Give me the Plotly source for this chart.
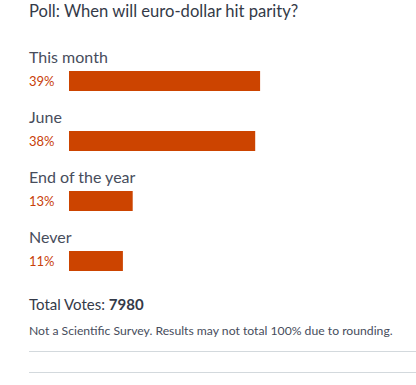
import plotly.graph_objects as go

title = "Poll: When will euro-dollar hit parity?"
categories = ["This month", "June", "End of the year", "Never"]
percents = [39, 38, 13, 11]
total_votes = 7980
footnote = "Not a Scientific Survey. Results may not total 100% due to rounding."

W, H = 416, 385
BAR_COLOR = "#cc4400"
TEXT_DARK = "#343a48"
TEXT_MID = "#474d5c"
FONT = "Lato"
TX = 27  # left edge of text boxes (px)


def px(xp):
    return xp / W


def py(yp):
    return 1 - yp / H


fig = go.Figure()
fig.add_trace(go.Bar(
    x=percents, y=categories, orientation="h",
    marker=dict(color=BAR_COLOR, line=dict(width=0)),
    width=0.333, hoverinfo="skip",
))

annotations = [
    dict(text=title, x=px(TX), y=py(11), xref="paper", yref="paper",
         xanchor="left", yanchor="middle", showarrow=False,
         font=dict(family=FONT, size=16.6, color=TEXT_DARK)),
]
for cat, p in zip(categories, percents):
    annotations.append(dict(text=cat, x=px(TX), y=cat, xref="paper", yref="y",
                            xanchor="left", yanchor="middle", yshift=25, showarrow=False,
                            font=dict(family=FONT, size=16, color=TEXT_MID)))
    annotations.append(dict(text=f"{p}%", x=px(TX), y=cat, xref="paper", yref="y",
                            xanchor="left", yanchor="middle", showarrow=False,
                            font=dict(family=FONT, size=13, color="#c8400a")))
annotations.append(dict(text=f"Total Votes: <b>{total_votes}</b>", x=px(TX), y=py(304),
                        xref="paper", yref="paper", xanchor="left", yanchor="middle",
                        showarrow=False, font=dict(family=FONT, size=15, color=TEXT_DARK)))
annotations.append(dict(text=footnote, x=px(TX), y=py(330),
                        xref="paper", yref="paper", xanchor="left", yanchor="middle",
                        showarrow=False, font=dict(family=FONT, size=12.2, color=TEXT_MID)))

shapes = [
    dict(type="line", xref="paper", yref="paper", x0=px(29), x1=1, y0=py(351.5), y1=py(351.5),
         line=dict(color="#d3d9dd", width=1)),
    dict(type="line", xref="paper", yref="paper", x0=px(29), x1=1, y0=py(372.5), y1=py(372.5),
         line=dict(color="#d3d9dd", width=1)),
]

px_per_pct = 4.9
x0_px = 69
bar0_center = 81
spacing = 60
fig.update_layout(
    width=W, height=H,
    margin=dict(l=0, r=0, t=0, b=0),
    paper_bgcolor="white", plot_bgcolor="white",
    showlegend=False,
    xaxis=dict(domain=[x0_px / W, 1], range=[0, (W - x0_px) / px_per_pct],
               visible=False, fixedrange=True),
    yaxis=dict(domain=[0, 1], range=[(H - bar0_center) / spacing, -bar0_center / spacing],
               visible=False, categoryorder="array", categoryarray=categories, fixedrange=True),
    annotations=annotations,
    shapes=shapes,
)
fig.write_html("out.html", config={"displayModeBar": False},
               post_script="document.body.style.margin='0';")
